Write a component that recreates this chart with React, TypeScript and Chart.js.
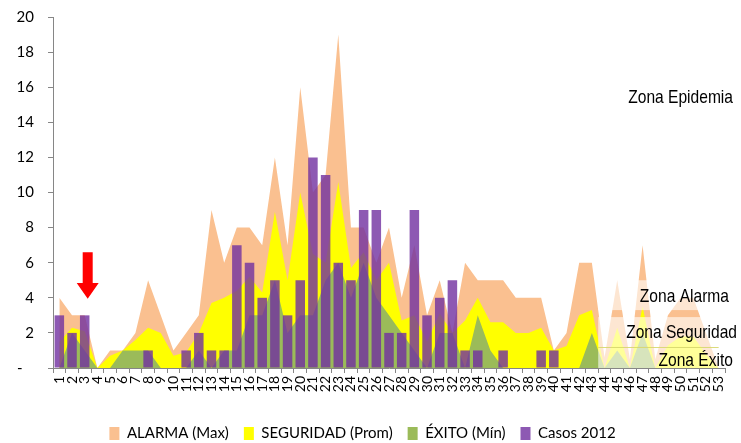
import React, { useEffect, useRef } from 'react';
import { Chart, registerables } from 'chart.js';

Chart.register(...registerables);

const weeks = [
  '1', '2', '3', '4', '5', '6', '7', '8', '9', '10',
  '11', '12', '13', '14', '15', '16', '17', '18', '19', '20',
  '21', '22', '23', '24', '25', '26', '27', '28', '29', '30',
  '31', '32', '33', '34', '35', '36', '37', '38', '39', '40',
  '41', '42', '43', '44', '45', '46', '47', '48', '49', '50',
  '51', '52', '53',
];

const alarmaMax = [
  4, 3, 3, 0, 1, 1, 2, 5, 3, 1,
  2, 3, 9, 6, 8, 8, 7, 12, 7, 16,
  10, 11, 19, 8, 8, 6, 8, 4, 7, 3,
  5, 2, 6, 5, 5, 5, 4, 4, 4, 1,
  2, 6, 6, 0.6, 5, 0.5, 7, 0.5, 3, 4,
  4, 2, 0,
];

const seguridadProm = [
  1.5, 2.3, 2.1, 0, 0.7, 1, 1.6, 2.3, 2, 0.7,
  0.9, 2, 3.7, 4, 4.4, 5.2, 4.3, 8.9, 5, 10,
  6.5, 6, 10.6, 5.7, 6.6, 5, 6, 2.7, 3, 1.5,
  3.1, 2, 2.7, 4, 2.6, 2.6, 2, 2, 2.3, 1,
  1.25, 3, 3.3, 0, 2.3, 0, 3.5, 0, 1.3, 1.8,
  1.8, 0.8, 0,
];

const exitoMin = [
  0, 2, 1, 0, 0, 1, 1, 1, 0, 0,
  0, 1, 0, 1, 1, 3, 3, 5, 2, 3,
  3, 5, 6, 4, 6, 4, 3, 2, 1, 0,
  2, 2, 0, 3, 1, 0, 0, 0, 0, 0,
  0, 0, 2, 0, 1, 0, 2, 0, 0, 0,
  0, 0, 0,
];

const casos2012 = [
  3, 2, 3, 0, 0, 0, 0, 1, 0, 0,
  1, 2, 1, 1, 7, 6, 4, 5, 3, 5,
  12, 11, 6, 5, 9, 9, 2, 2, 9, 3,
  4, 5, 1, 1, 0, 1, 0, 0, 1, 1,
  0, 0, 0, 0, 0, 0, 0, 0, 0, 0,
  0, 0, 0,
];

const seriesNames = ['ALARMA (Max)', 'SEGURIDAD (Prom)', 'ÉXITO (Mín)', 'Casos 2012'];
const zoneNames = ['Zona Epidemia', 'Zona Alarma', 'Zona Seguridad', 'Zona Éxito'];

const TEXT_FONT = '"Lato", "Open Sans", sans-serif';
const ZONE_FONT = '19px "Liberation Sans", Arial, sans-serif';
const ZONE_SQUEEZE = 0.82;

const zonesPlugin = {
  id: 'zonesPlugin',
  afterDatasetsDraw(chart: any) {
    const { ctx, chartArea, scales } = chart;
    const x = scales.x;
    const y = scales.y;
    const left = (x.getPixelForValue(42) + x.getPixelForValue(43)) / 2;
    const right = chartArea.right + 20;
    ctx.save();
    // pale boxes behind the zone labels
    ctx.fillStyle = 'rgba(255,255,255,0.6)';
    const bands: [number, number][] = [[5, 3.3], [2.9, 1.2], [1.2, 0]];
    for (const [a, b] of bands) {
      const t = y.getPixelForValue(a);
      const bt = y.getPixelForValue(b);
      ctx.fillRect(left, t, right - left, bt - t);
    }
    ctx.strokeStyle = 'rgba(215,215,110,0.9)';
    ctx.lineWidth = 1;
    ctx.beginPath();
    const ly = Math.round(y.getPixelForValue(1.2)) + 0.5;
    ctx.moveTo(left, ly);
    ctx.lineTo(x.getPixelForValue(52), ly);
    ctx.stroke();

    // red arrow pointing at week 3
    const ax = x.getPixelForValue(2) + 3;
    const yTop = y.getPixelForValue(6.6);
    const yNeck = y.getPixelForValue(4.85);
    const yTip = y.getPixelForValue(3.95);
    ctx.fillStyle = '#FF0000';
    ctx.beginPath();
    ctx.moveTo(ax - 5, yTop);
    ctx.lineTo(ax + 5, yTop);
    ctx.lineTo(ax + 5, yNeck);
    ctx.lineTo(ax + 11, yNeck);
    ctx.lineTo(ax, yTip);
    ctx.lineTo(ax - 11, yNeck);
    ctx.lineTo(ax - 5, yNeck);
    ctx.closePath();
    ctx.fill();
    ctx.restore();
  },
  afterDraw(chart: any) {
    const { ctx, chartArea, scales } = chart;
    const y = scales.y;
    const spots: [number, number][] = [[8, 15.4], [4, 4.05], [12, 2.0], [8, 0.42]];
    zoneNames.forEach((name, i) => {
      ctx.save();
      ctx.font = ZONE_FONT;
      ctx.fillStyle = '#000';
      ctx.textAlign = 'right';
      ctx.textBaseline = 'middle';
      const px = chartArea.right + spots[i][0];
      const py = y.getPixelForValue(spots[i][1]);
      ctx.translate(px, py);
      ctx.scale(ZONE_SQUEEZE, 1);
      ctx.fillText(name, 0, 0);
      ctx.restore();
    });
  },
};

export default function App() {
  const canvasRef = useRef<HTMLCanvasElement | null>(null);

  useEffect(() => {
    if (!canvasRef.current) return;
    const chart = new Chart(canvasRef.current, {
      type: 'bar',
      data: {
        labels: weeks,
        datasets: [
          {
            type: 'line',
            label: seriesNames[0],
            data: alarmaMax,
            backgroundColor: '#FAC090',
            borderColor: 'rgba(0,0,0,0)',
            borderWidth: 0,
            fill: 'origin',
            pointRadius: 0,
            tension: 0,
            order: 3,
          } as any,
          {
            type: 'line',
            label: seriesNames[1],
            data: seguridadProm,
            backgroundColor: '#FFFF00',
            borderColor: 'rgba(0,0,0,0)',
            borderWidth: 0,
            fill: 'origin',
            pointRadius: 0,
            tension: 0,
            order: 2,
          } as any,
          {
            type: 'line',
            label: seriesNames[2],
            data: exitoMin,
            backgroundColor: '#9BBB59',
            borderColor: 'rgba(0,0,0,0)',
            borderWidth: 0,
            fill: 'origin',
            pointRadius: 0,
            tension: 0,
            order: 1,
          } as any,
          {
            type: 'bar',
            label: seriesNames[3],
            data: casos2012,
            backgroundColor: 'rgba(112,48,160,0.8)',
            borderWidth: 0,
            barPercentage: 0.75,
            categoryPercentage: 1,
            order: 0,
          } as any,
        ],
      },
      options: {
        responsive: false,
        animation: false,
        layout: { padding: { left: 0, right: 16, top: 17, bottom: 0 } },
        plugins: {
          tooltip: { enabled: false },
          legend: {
            position: 'bottom',
            labels: {
              boxWidth: 10,
              boxHeight: 13,
              padding: 15,
              color: '#000',
              font: { family: TEXT_FONT, size: 15 },
              sort: (a: any, b: any) => a.datasetIndex - b.datasetIndex,
            },
          },
        },
        scales: {
          x: {
            grid: {
              display: true,
              drawOnChartArea: false,
              drawTicks: true,
              tickLength: 5,
              color: '#868686',
              offset: true,
            },
            border: { color: '#868686', width: 1 },
            ticks: {
              autoSkip: false,
              maxRotation: 90,
              minRotation: 90,
              padding: 3,
              color: '#000',
              font: { family: TEXT_FONT, size: 14 },
            },
            afterFit: (s: any) => {
              s.height = 43;
            },
          },
          y: {
            min: 0,
            max: 20,
            ticks: {
              stepSize: 2,
              padding: 14,
              color: '#000',
              font: { family: TEXT_FONT, size: 15, lineHeight: 0.4 },
              callback: (v: any) => (Number(v) === 0 ? '-   ' : String(v)),
            },
            grid: {
              drawOnChartArea: false,
              drawTicks: true,
              tickLength: 5,
              color: '#868686',
            },
            border: { color: '#868686', width: 1 },
            afterFit: (s: any) => {
              s.width = 53;
            },
          },
        },
      },
      plugins: [zonesPlugin],
    });
    return () => chart.destroy();
  }, []);

  return (
    <div
      style={{
        position: 'fixed',
        left: 0,
        top: 0,
        width: 741,
        height: 443,
        overflow: 'hidden',
        background: '#fff',
      }}
    >
      <canvas ref={canvasRef} width={741} height={451} style={{ display: 'block' }} />
    </div>
  );
}
